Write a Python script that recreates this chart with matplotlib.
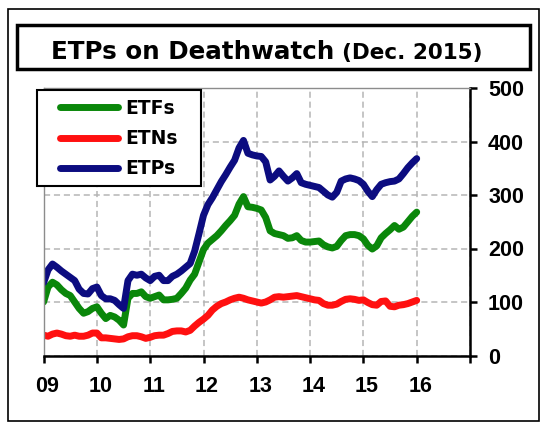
import matplotlib
matplotlib.use("Agg")
import matplotlib.pyplot as plt
import matplotlib.transforms as mtransforms
from matplotlib.patches import Rectangle
import numpy as np

# monthly counts, Jan 2009 .. Jan 2016
etfs = [100, 128, 137, 132, 123, 116, 112, 100, 88, 79, 82, 88,
        91, 79, 69, 75, 72, 66, 57, 107, 116, 116, 119, 110,
        107, 110, 113, 104, 104, 105, 107, 116, 126, 141, 152, 175,
        198, 210, 217, 224, 233, 243, 252, 262, 283, 297, 278, 277,
        275, 272, 258, 233, 228, 226, 224, 219, 220, 224, 215, 212,
        212, 213, 214, 207, 203, 201, 204, 215, 224, 226, 226, 224,
        218, 206, 199, 205, 220, 228, 235, 243, 236, 240, 250, 260,
        268]
etns = [38, 36, 40, 42, 40, 37, 36, 38, 36, 36, 38, 42,
        42, 33, 33, 32, 31, 30, 31, 35, 37, 37, 35, 32,
        34, 37, 38, 38, 41, 45, 46, 46, 44, 47, 55, 62,
        68, 75, 85, 92, 97, 100, 104, 107, 109, 107, 104, 102,
        100, 98, 100, 104, 109, 110, 109, 110, 111, 112, 110, 108,
        106, 104, 103, 97, 94, 94, 96, 101, 105, 106, 105, 103,
        104, 99, 95, 94, 101, 102, 92, 91, 94, 95, 97, 100,
        103]
etps = [136, 160, 171, 165, 158, 152, 146, 140, 124, 116, 115, 125,
        128, 112, 106, 106, 103, 95, 88, 140, 152, 150, 152, 145,
        140, 148, 150, 140, 140, 148, 152, 158, 165, 172, 195, 228,
        262, 282, 295, 310, 325, 338, 352, 365, 388, 402, 378, 375,
        373, 372, 362, 328, 335, 345, 335, 326, 332, 340, 323, 320,
        318, 316, 314, 307, 300, 296, 305, 326, 330, 332, 330, 327,
        320, 307, 297, 310, 320, 323, 325, 326, 330, 340, 351, 360,
        368]
years = list(range(2009, 2018))
year_labels = ['09', '10', '11', '12', '13', '14', '15', '16', '']
y_ticks = [0, 100, 200, 300, 400, 500]

x = 2009 + np.arange(len(etfs)) / 12.0

W, H = 546, 432
fig = plt.figure(figsize=(W / 100, H / 100), dpi=100)
fig.patch.set_facecolor('white')

def fx(px):
    return px / W

def fy(py):
    return 1 - py / H

# outer frame and title box
fig.patches.append(Rectangle((fx(8), fy(421)), fx(539) - fx(8), fy(9) - fy(421),
                             transform=fig.transFigure, fill=False, ec='black', lw=1.2))
fig.patches.append(Rectangle((fx(17), fy(69)), fx(530) - fx(17), fy(25) - fy(69),
                             transform=fig.transFigure, fill=False, ec='black', lw=2.5))
fig.text(fx(51), fy(58.7), 'ETPs on Deathwatch', fontsize=17.7, fontweight='bold',
         family='DejaVu Sans', ha='left', va='baseline')
fig.text(fx(342), fy(58.7), '(Dec. 2015)', fontsize=15.5, fontweight='bold',
         family='DejaVu Sans', ha='left', va='baseline')

ax = fig.add_axes([fx(43.6), fy(355.5), fx(470) - fx(43.6), fy(88) - fy(355.5)])

lw = 5.0
ax.plot(x, etfs, color='#0a870a', lw=lw, solid_capstyle='round', solid_joinstyle='round', label='ETFs')
ax.plot(x, etns, color='#ff1010', lw=lw, solid_capstyle='round', solid_joinstyle='round', label='ETNs')
ax.plot(x, etps, color='#0c0c80', lw=lw, solid_capstyle='round', solid_joinstyle='round', label='ETPs')

ax.set_xlim(2009, 2017)
ax.set_ylim(0, 500)
ax.set_xticks(years)
ax.set_xticklabels(year_labels)
ax.set_yticks(y_ticks)
ax.yaxis.tick_right()
ax.grid(True, color='#b5b5b5', lw=1.1, linestyle=(0, (4, 2.5)))
ax.set_axisbelow(True)

for side in ['left', 'top']:
    ax.spines[side].set_color('#8c8c8c')
    ax.spines[side].set_linewidth(1.0)
for side in ['right', 'bottom']:
    ax.spines[side].set_color('black')
    ax.spines[side].set_linewidth(1.8)

ax.tick_params(axis='both', direction='out', length=5, width=1.8, color='black',
               labelsize=15.5)
ax.tick_params(axis='x', pad=10)
ax.tick_params(axis='y', pad=8, right=True, left=False)
for lab in ax.get_xticklabels() + ax.get_yticklabels():
    lab.set_fontfamily('Liberation Sans')
    lab.set_fontweight('bold')
offset = mtransforms.ScaledTranslation(3.5 / 100, 0, fig.dpi_scale_trans)
for lab in ax.get_xticklabels():
    lab.set_transform(lab.get_transform() + offset)

# legend box, drawn in the axes so it sits above the lines
box = Rectangle((fx(37), fy(186)), fx(201) - fx(37), fy(90) - fy(186),
                transform=fig.transFigure, fc='white', ec='black', lw=1.5,
                zorder=5, clip_on=False)
ax.add_patch(box)
leg = ax.legend(loc='upper left', bbox_to_anchor=(fx(60), fy(99)), bbox_transform=fig.transFigure,
                frameon=False, borderpad=0, borderaxespad=0, handlelength=3.1,
                handletextpad=0.4, labelspacing=0.6,
                prop={'family': 'DejaVu Sans', 'weight': 'bold', 'size': 13.5})
leg.set_zorder(6)
for line in leg.get_lines():
    line.set_linewidth(lw)

fig.savefig('out.png', dpi=100, facecolor='white')
